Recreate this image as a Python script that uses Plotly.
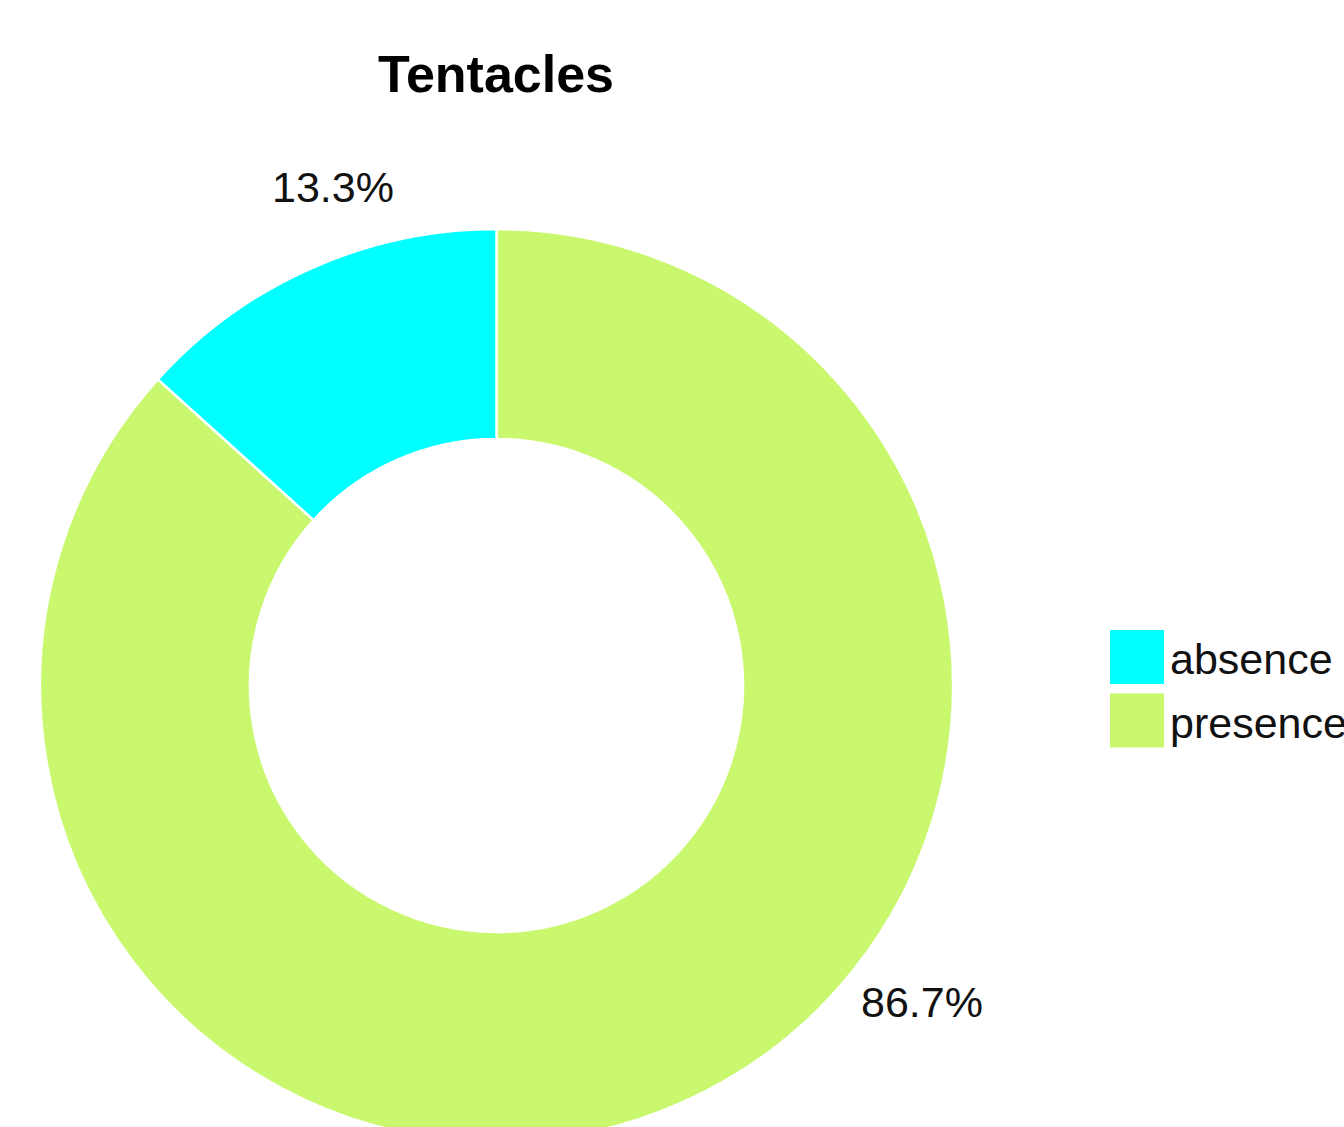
import plotly.graph_objects as go

# ---- data ----
categories = ["absence", "presence"]
values = [13.3, 86.7]
colors = ["#00FFFF", "#C9F86F"]
title_text = "Tentacles"

W, H = 1344, 1200  # page is taller than the window so the bottom of the ring is cut, as in the reference
FONT = "Liberation Sans, Arial, Helvetica, sans-serif"

def px(x):
    return x / W

def py(y):
    return 1 - y / H

# slices drawn clockwise from 12 o'clock in reverse order, so "absence" sits just left of 12 o'clock
fig = go.Figure(go.Pie(
    labels=categories[::-1],
    values=values[::-1],
    marker=dict(colors=colors[::-1], line=dict(color="white", width=2.5)),
    hole=0.54,
    sort=False,
    direction="clockwise",
    rotation=0,
    textinfo="none",
    hoverinfo="label+percent",
    showlegend=False,
    domain=dict(x=[px(40), px(953)], y=[py(1142), py(229)]),
))

total = sum(values)
pct = [f"{100 * v / total:.1f}%" for v in values]
label_pos = [(333, 187), (922, 1002)]
annotations = []
for t, (lx, ly) in zip(pct, label_pos):
    annotations.append(dict(
        x=px(lx), y=py(ly), xref="paper", yref="paper", text=t, showarrow=False,
        xanchor="center", yanchor="middle", font=dict(family=FONT, size=43, color="#111111"),
    ))

# legend (large square keys)
shapes = []
for i, (cat, col) in enumerate(zip(categories, colors)):
    top = 630 + i * 63.5
    shapes.append(dict(type="rect", xref="paper", yref="paper",
                       x0=px(1110), x1=px(1164), y0=py(top + 54), y1=py(top),
                       fillcolor=col, line=dict(width=0)))
    annotations.append(dict(
        x=px(1168), y=py(top + 29), xref="paper", yref="paper", text=cat, showarrow=False,
        xanchor="left", yanchor="middle", font=dict(family=FONT, size=43, color="#111111"),
    ))

fig.update_layout(
    width=W, height=H,
    margin=dict(l=0, r=0, t=0, b=0),
    paper_bgcolor="white", plot_bgcolor="white",
    title=dict(text=title_text, x=px(496), xanchor="center", y=py(74), yanchor="middle",
               yref="container", font=dict(family=FONT, size=52, color="black", weight="bold")),
    annotations=annotations,
    shapes=shapes,
    showlegend=False,
)

fig.write_html("out.html")
